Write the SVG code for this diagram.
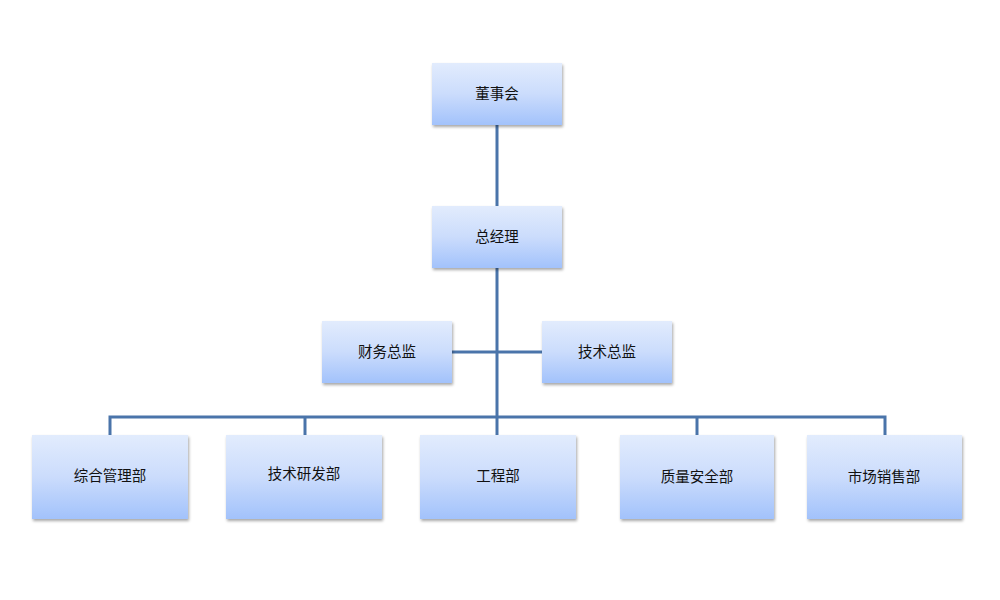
<svg xmlns="http://www.w3.org/2000/svg" width="1000" height="600" viewBox="0 0 1000 600">
<defs>
<linearGradient id="g" x1="0" y1="0" x2="0" y2="1">
<stop offset="0" stop-color="#e2ecfd"/>
<stop offset="0.5" stop-color="#cbdcfc"/>
<stop offset="1" stop-color="#a2c2fb"/>
</linearGradient>
<filter id="sh" x="-10%" y="-10%" width="125%" height="130%">
<feGaussianBlur in="SourceAlpha" stdDeviation="1.5"/>
<feOffset dx="1" dy="2" result="b"/>
<feComponentTransfer><feFuncA type="linear" slope="0.35"/></feComponentTransfer>
<feMerge><feMergeNode/><feMergeNode in="SourceGraphic"/></feMerge>
</filter>
</defs>
<style>
.box{fill:url(#g);filter:url(#sh)}
.t{font-family:"Liberation Sans","Noto Sans CJK SC",sans-serif;font-size:14.5px;fill:#111;text-anchor:middle;dominant-baseline:central}
.c{stroke:#4a74aa;stroke-width:3;fill:none}
</style>
<rect width="1000" height="600" fill="#fff"/>
<g id="connectors">
<path class="c" d="M497 125V417"/>
<path class="c" d="M452 352H542"/>
<path class="c" d="M110 435V417H885V435"/>
<path class="c" d="M305 417V435"/>
<path class="c" d="M497 417V435"/>
<path class="c" d="M697 417V435"/>
</g>
<g id="n1"><rect class="box" x="432" y="63" width="130" height="62"/><text class="t" x="497" y="94">董事会</text></g>
<g id="n2"><rect class="box" x="432" y="206" width="130" height="62"/><text class="t" x="497" y="237">总经理</text></g>
<g id="n3"><rect class="box" x="322" y="321" width="130" height="62"/><text class="t" x="387" y="352">财务总监</text></g>
<g id="n4"><rect class="box" x="542" y="321" width="130" height="62"/><text class="t" x="607" y="352">技术总监</text></g>
<g id="n5"><rect class="box" x="32" y="435" width="156" height="84"/><text class="t" x="110" y="476">综合管理部</text></g>
<g id="n6"><rect class="box" x="226" y="435" width="156" height="84"/><text class="t" x="304" y="474">技术研发部</text></g>
<g id="n7"><rect class="box" x="420" y="435" width="156" height="84"/><text class="t" x="498" y="476">工程部</text></g>
<g id="n8"><rect class="box" x="620" y="435" width="154" height="84"/><text class="t" x="697" y="477">质量安全部</text></g>
<g id="n9"><rect class="box" x="807" y="435" width="155" height="84"/><text class="t" x="884" y="477">市场销售部</text></g>
</svg>
